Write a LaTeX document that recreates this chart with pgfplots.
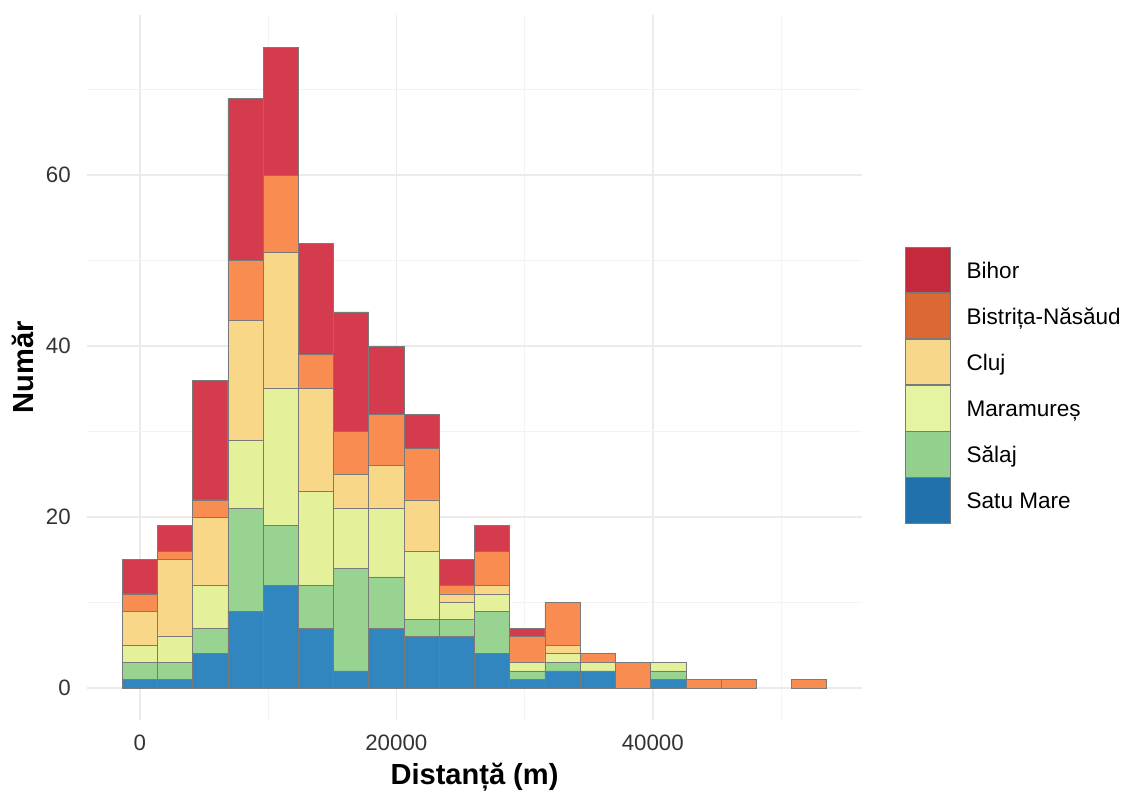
\documentclass[border=0pt]{standalone}
\usepackage{fontspec}
\setmainfont{Liberation Sans}
\usepackage{pgfplots}
\usepackage{pgfplotstable}
\pgfplotsset{compat=1.18}
\definecolor{cBi}{HTML}{D43C4E}
\definecolor{cBN}{HTML}{F98D51}
\definecolor{cCl}{HTML}{F9D788}
\definecolor{cMa}{HTML}{E4F19A}
\definecolor{cSa}{HTML}{98D391}
\definecolor{cSM}{HTML}{3286BF}
\definecolor{kBi}{HTML}{C42A3C}
\definecolor{kBN}{HTML}{DC6834}
\definecolor{kCl}{HTML}{F7D88A}
\definecolor{kMa}{HTML}{E4F4A0}
\definecolor{kSa}{HTML}{93D08D}
\definecolor{kSM}{HTML}{2171AC}
\definecolor{edge}{HTML}{7A7A7A}
\definecolor{gridmaj}{HTML}{EBEBEB}
\definecolor{gridmin}{HTML}{F3F3F3}
\definecolor{ticktxt}{HTML}{333333}
\pgfplotsset{keybox/.style={legend image code/.code={\draw[##1, draw=edge, line width=0.5pt] (0pt,-16pt) rectangle (33.75pt,18.1pt);}}}
\pgfplotstableread{
x SM Sa Ma Cl BN Bi
0 1 2 2 4 2 4
2747 1 2 3 9 1 3
5494 4 3 5 8 2 14
8241 9 12 8 14 7 19
10988 12 7 16 16 9 15
13735 7 5 11 12 4 13
16482 2 12 7 4 5 14
19229 7 6 8 5 6 8
21976 6 2 8 6 6 4
24723 6 2 2 1 1 3
27470 4 5 2 1 4 3
30217 1 1 1 0 3 1
32964 2 1 1 1 5 0
35711 2 0 1 0 1 0
38458 0 0 0 0 3 0
41205 1 1 1 0 0 0
43952 0 0 0 0 1 0
46699 0 0 0 0 1 0
49446 0 0 0 0 0 0
52193 0 0 0 0 1 0
}\datatable
\begin{document}
\begin{tikzpicture}
\path[use as bounding box] (-65.25pt,-55.5pt) rectangle (780pt,540pt);
\begin{axis}[
  at={(0,0)}, anchor=south west,
  scale only axis, width=581.25pt, height=528.75pt,
  xmin=-4121, xmax=56314, ymin=-3.75, ymax=78.75,
  ybar stacked, bar width=2747,
  xtick={0,20000,40000}, ytick={0,20,40,60},
  minor xtick={10000,30000,50000}, minor ytick={10,30,50,70},
  grid=both,
  major grid style={draw=gridmaj, line width=1.1pt},
  minor grid style={draw=gridmin, line width=0.6pt},
  axis line style={draw=none},
  major tick length=0pt, minor tick length=0pt,
  scaled ticks=false,
  /pgf/number format/set thousands separator={},
  /pgf/number format/assume math mode=true,
  ticklabel style={font=\fontsize{16.7}{20}\selectfont, text=ticktxt, inner sep=0pt},
  xticklabel style={anchor=north, yshift=-11.25pt},
  yticklabel style={anchor=east, xshift=-12pt},
  xlabel={Distanță (m)}, ylabel={Număr},
  label style={font=\bfseries\fontsize{21.8}{26}\selectfont},
  xlabel style={at={(axis description cs:0.5,-0.0908)}, anchor=base},
  ylabel style={at={(axis description cs:-0.0832,0.5)}, anchor=center},
  legend style={at={(axis description cs:1.0555,0.6714)}, anchor=north west,
    draw=none, fill=none, inner sep=0pt, outer sep=0pt, row sep=0pt, column sep=12pt,
    nodes={inner sep=0pt, outer sep=0pt},
    font=\fontsize{16.9}{20}\selectfont},
  legend cell align=left,
]
\addplot[fill=cSM, draw=edge, line width=0.55pt, forget plot] table[x=x, y=SM] {\datatable};
\addplot[fill=cSa, draw=edge, line width=0.55pt, forget plot] table[x=x, y=Sa] {\datatable};
\addplot[fill=cMa, draw=edge, line width=0.55pt, forget plot] table[x=x, y=Ma] {\datatable};
\addplot[fill=cCl, draw=edge, line width=0.55pt, forget plot] table[x=x, y=Cl] {\datatable};
\addplot[fill=cBN, draw=edge, line width=0.55pt, forget plot] table[x=x, y=BN] {\datatable};
\addplot[fill=cBi, draw=edge, line width=0.55pt, forget plot] table[x=x, y=Bi] {\datatable};
\addlegendimage{keybox, fill=kBi}
\addlegendentry{Bihor}
\addlegendimage{keybox, fill=kBN}
\addlegendentry{Bistrița-Năsăud}
\addlegendimage{keybox, fill=kCl}
\addlegendentry{Cluj}
\addlegendimage{keybox, fill=kMa}
\addlegendentry{Maramureș}
\addlegendimage{keybox, fill=kSa}
\addlegendentry{Sălaj}
\addlegendimage{keybox, fill=kSM}
\addlegendentry{Satu Mare}
\node[anchor=base west, inner sep=0pt, font=\fontsize{20.8}{24}\selectfont] at (axis description cs:1.0568,0.695) {judet};
\end{axis}
\end{tikzpicture}
\end{document}
